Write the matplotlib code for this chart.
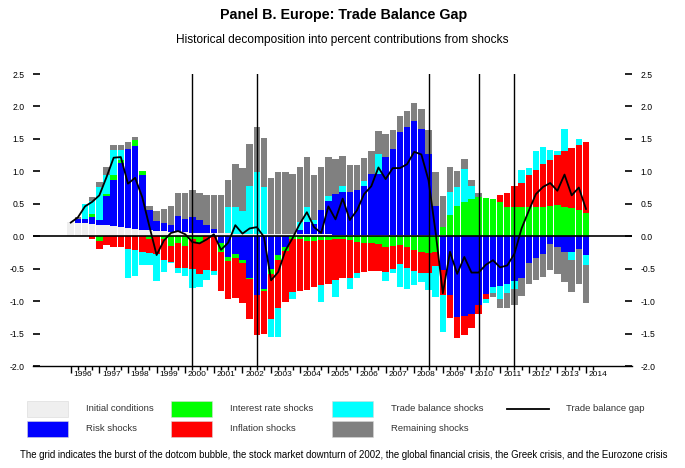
import matplotlib
matplotlib.use("Agg")
import numpy as np
import matplotlib.pyplot as plt
from matplotlib.patches import Rectangle
from matplotlib.lines import Line2D

# ----------------------------
# Data: quarterly contributions, 1996Q1 - 2014Q1
# ----------------------------

first_year = 1996
years = list(range(1996, 2015))

initial = [0.22, 0.21, 0.20, 0.19, 0.18, 0.17, 0.155, 0.14, 0.125, 0.11,
           0.10, 0.09, 0.08, 0.075, 0.07, 0.065, 0.06, 0.055, 0.05, 0.048,
           0.046, 0.044, 0.042, 0.04, 0.039, 0.038, 0.037, 0.036, 0.035, 0.034,
           0.033, 0.032, 0.031, 0.03, 0.029, 0.028, 0.027, 0.026, 0.025, 0.024,
           0.023, 0.022, 0.021, 0.02, 0.019, 0.018, 0.017, 0.016, 0.015, 0.014,
           0.013, 0.012, 0.012, 0.011, 0.011, 0.01, 0.01, 0.01, 0.009, 0.009,
           0.009, 0.008, 0.008, 0.008, 0.007, 0.007, 0.007, 0.006, 0.006, 0.006,
           0.006, 0.005, 0.005]

risk = [0.0, 0.06, 0.06, 0.11, 0.07, 0.445, 0.715, 0.99, 1.225, 1.28,
        0.84, 0.32, 0.15, 0.125, 0.11, 0.245, 0.21, 0.245, 0.20, 0.13,
        0.07, -0.10, -0.32, -0.27, -0.36, -0.64, -0.91, -0.81, -0.51, -0.29,
        -0.17, 0.0, 0.07, 0.19, 0.16, 0.37, 0.51, 0.63, 0.655, 0.65,
        0.69, 0.75, 0.94, 0.94, 1.20, 1.33, 1.59, 1.67, 1.765, 1.64,
        1.25, 0.45, -0.52, -0.91, -1.24, -1.23, -1.20, -1.06, -0.89, -0.79,
        -0.77, -0.74, -0.69, -0.64, -0.42, -0.34, -0.27, -0.12, -0.16, -0.24,
        -0.24, -0.20, -0.29]

interest = [0.0, 0.0, 0.0, 0.05, -0.07, 0.04, 0.07, 0.05, 0.0, 0.09,
            0.06, -0.05, 0.0, -0.05, -0.15, -0.10, -0.15, -0.05, -0.10, 0.0,
            0.0, -0.14, -0.06, -0.07, -0.06, -0.02, 0.0, -0.04, -0.07, -0.07,
            -0.06, -0.05, -0.04, -0.07, -0.07, -0.06, -0.06, -0.05, -0.04, -0.06,
            -0.09, -0.10, -0.11, -0.12, -0.16, -0.15, -0.14, -0.16, -0.21, -0.24,
            -0.26, -0.24, 0.13, 0.31, 0.45, 0.52, 0.56, 0.60, 0.58, 0.56,
            0.52, 0.44, 0.45, 0.45, 0.44, 0.44, 0.45, 0.46, 0.47, 0.45,
            0.43, 0.40, 0.36]

inflation = [0.0, 0.0, 0.0, -0.05, -0.12, -0.14, -0.17, -0.17, -0.19, -0.22,
             -0.24, -0.21, -0.27, -0.31, -0.24, -0.39, -0.34, -0.45, -0.48, -0.52,
             -0.53, -0.61, -0.59, -0.61, -0.61, -0.61, -0.61, -0.65, -0.70, -0.74,
             -0.78, -0.81, -0.80, -0.76, -0.72, -0.69, -0.67, -0.62, -0.60, -0.58,
             -0.47, -0.45, -0.42, -0.41, -0.39, -0.35, -0.29, -0.33, -0.33, -0.32,
             -0.31, -0.22, -0.39, -0.35, -0.33, -0.29, -0.22, -0.14, -0.07, 0.0,
             0.10, 0.22, 0.32, 0.36, 0.50, 0.58, 0.65, 0.71, 0.78, 0.86,
             0.92, 1.00, 1.08]

trade = [0.0, 0.0, 0.23, 0.20, 0.51, 0.295, 0.39, 0.15, -0.45, -0.40,
         -0.20, -0.19, -0.42, -0.19, -0.03, -0.07, -0.13, -0.30, -0.21, -0.16,
         -0.07, 0.0, 0.41, 0.41, 0.35, 0.73, 0.95, 0.72, -0.27, -0.45,
         0.0, -0.10, 0.12, 0.23, 0.06, -0.26, 0.08, -0.26, 0.09, -0.18,
         -0.09, 0.08, 0.0, 0.30, -0.14, -0.07, -0.36, -0.32, -0.21, -0.14,
         -0.26, -0.47, -0.56, 0.36, 0.30, 0.50, 0.20, 0.0, -0.07, -0.08,
         -0.19, -0.14, -0.13, 0.21, 0.11, 0.28, 0.275, 0.15, 0.06, 0.34,
         -0.12, 0.09, -0.16]

remaining = [0.0, 0.03, 0.0, 0.05, 0.08, 0.11, 0.07, 0.07, 0.10, 0.05,
             0.0, 0.06, 0.155, 0.22, 0.29, 0.35, 0.39, 0.41, 0.42, 0.45,
             0.52, 0.59, 0.42, 0.66, 0.67, 0.65, 0.69, 0.75, 0.855, 0.96,
             0.96, 0.93, 0.85, 0.77, 0.70, 0.67, 0.60, 0.53, 0.47, 0.42,
             0.38, 0.36, 0.35, 0.36, 0.35, 0.29, 0.24, 0.24, 0.28, 0.30,
             0.38, 0.53, 0.48, 0.38, 0.24, 0.165, 0.10, 0.05, 0.0, -0.06,
             -0.14, -0.22, -0.24, -0.28, -0.31, -0.34, -0.36, -0.40, -0.42, -0.46,
             -0.50, -0.54, -0.58]

gap = [0.21, 0.29, 0.46, 0.53, 0.63, 0.91, 1.21, 1.22, 0.81, 0.90,
       0.60, 0.15, -0.29, -0.07, 0.05, 0.08, 0.03, -0.09, -0.11, -0.05,
       0.03, -0.21, -0.10, 0.17, 0.04, 0.12, 0.14, -0.01, -0.68, -0.55,
       -0.22, -0.03, 0.19, 0.37, 0.14, 0.05, 0.46, 0.26, 0.58, 0.25,
       0.40, 0.65, 0.77, 1.06, 0.88, 1.05, 1.05, 1.11, 1.30, 1.26,
       0.86, 0.05, -0.88, -0.24, -0.58, -0.32, -0.56, -0.56, -0.44, -0.37,
       -0.48, -0.45, -0.27, 0.12, 0.39, 0.65, 0.76, 0.82, 0.70, 0.95,
       0.63, 0.75, 0.42]

# dotcom bubble, 2002 downturn, global financial crisis, Greek crisis, Eurozone crisis
crisis_dates = [(2000, 2), (2002, 3), (2008, 3), (2010, 2), (2011, 3)]

series = [
    ("Initial conditions", initial, "#efefef"),
    ("Risk shocks", risk, "#0000ff"),
    ("Interest rate shocks", interest, "#00ff00"),
    ("Inflation shocks", inflation, "#ff0000"),
    ("Trade balance shocks", trade, "#00ffff"),
    ("Remaining shocks", remaining, "#808080"),
]

plt.rcParams["font.family"] = ["Liberation Sans", "DejaVu Sans"]
plt.rcParams["axes.unicode_minus"] = False

# ----------------------------
# Figure
# ----------------------------

W, H = 685, 468
fig = plt.figure(figsize=(W / 100, H / 100), dpi=100)

ax_l, ax_r, ax_t, ax_b = 33, 632, 74, 366
ax = fig.add_axes([ax_l / W, 1 - ax_b / H, (ax_r - ax_l) / W, (ax_b - ax_t) / H])

n = len(gap)
x = np.arange(n)

# positive parts stack upward, negative parts downward
pos_base = np.zeros(n)
neg_base = np.zeros(n)
for name, vals, color in series:
    v = np.array(vals)
    pos = np.where(v > 0, v, 0.0)
    neg = np.where(v < 0, v, 0.0)
    ax.bar(x, pos, width=0.9, bottom=pos_base, color=color, linewidth=0)
    ax.bar(x, neg, width=0.9, bottom=neg_base, color=color, linewidth=0)
    pos_base += pos
    neg_base += neg

ax.axhline(0, color="black", linewidth=1.2, zorder=3)

for yr, q in crisis_dates:
    ax.axvline((yr - first_year) * 4 + (q - 1), color="black", linewidth=1.0, zorder=3)

ax.plot(x, gap, color="black", linewidth=1.3, zorder=4)

# ----------------------------
# Axes and ticks
# ----------------------------

ax.set_xlim(-5.27, 78.43)
ax.set_ylim(-2.0, 2.5)

for side in ["top", "left", "right"]:
    ax.spines[side].set_visible(False)
ax.spines["bottom"].set_linewidth(1.0)

ax.set_xticks(np.arange(0, n + 1), minor=True)
ax.set_xticks([(yr - first_year) * 4 for yr in years])
ax.set_xticklabels([])
ax.tick_params(axis="x", which="major", direction="out", length=5, width=1.0)
ax.tick_params(axis="x", which="minor", direction="out", length=3, width=1.0)

# year labels sit in the middle of each year
for yr in years:
    ax.text((yr - first_year) * 4 + 1.7, -2.08, str(yr), ha="center", va="top",
            fontsize=6)

yticks = np.arange(-2.0, 2.51, 0.5)
ax.set_yticks(yticks)
ax.set_yticklabels([f"{t:.1f}" for t in yticks])
ax.tick_params(axis="y", which="both", direction="in", length=5, width=1.2,
               left=True, right=True, labelleft=True, labelright=True,
               labelsize=6.2, pad=6)

# ----------------------------
# Titles
# ----------------------------

fig.text(0.5015, 1 - 15 / H, "Panel B. Europe: Trade Balance Gap",
         ha="center", va="center", fontsize=10.3, fontweight="bold")
fig.text(0.5, 1 - 40 / H, "Historical decomposition into percent contributions from shocks",
         ha="center", va="center", fontsize=8.6)

# ----------------------------
# Legend
# ----------------------------

def px(xp, yp):
    return xp / W, 1 - yp / H

legend_cols = [27, 171, 332]
legend_rows = [408.5, 428.5]
text_off = 59
order = [[0, 2, 4], [1, 3, 5]]
for r, row in enumerate(order):
    for c, idx in enumerate(row):
        name, _, color = series[idx]
        x0, y0 = px(legend_cols[c], legend_rows[r] + 8)
        fig.patches.append(Rectangle((x0, y0), 41 / W, 15.5 / H, transform=fig.transFigure,
                                     facecolor=color, edgecolor="#d8d8d8", linewidth=0.4))
        tx, ty = px(legend_cols[c] + text_off, legend_rows[r])
        fig.text(tx, ty, name, ha="left", va="center", fontsize=6.8, color="#333333")

lx0, ly = px(507, legend_rows[0])
lx1, _ = px(549, legend_rows[0])
fig.lines.append(Line2D([lx0, lx1], [ly, ly], transform=fig.transFigure, color="black", linewidth=1.3))
tx, ty = px(566, legend_rows[0])
fig.text(tx, ty, "Trade balance gap", ha="left", va="center", fontsize=6.8, color="#333333")

fig.text(0.5015, 1 - 455 / H,
         "The grid indicates the burst of the dotcom bubble, the stock market downturn of 2002, "
         "the global financial crisis, the Greek crisis, and the Eurozone crisis",
         ha="center", va="center", fontsize=6.9)

fig.savefig("out.png", dpi=100)
